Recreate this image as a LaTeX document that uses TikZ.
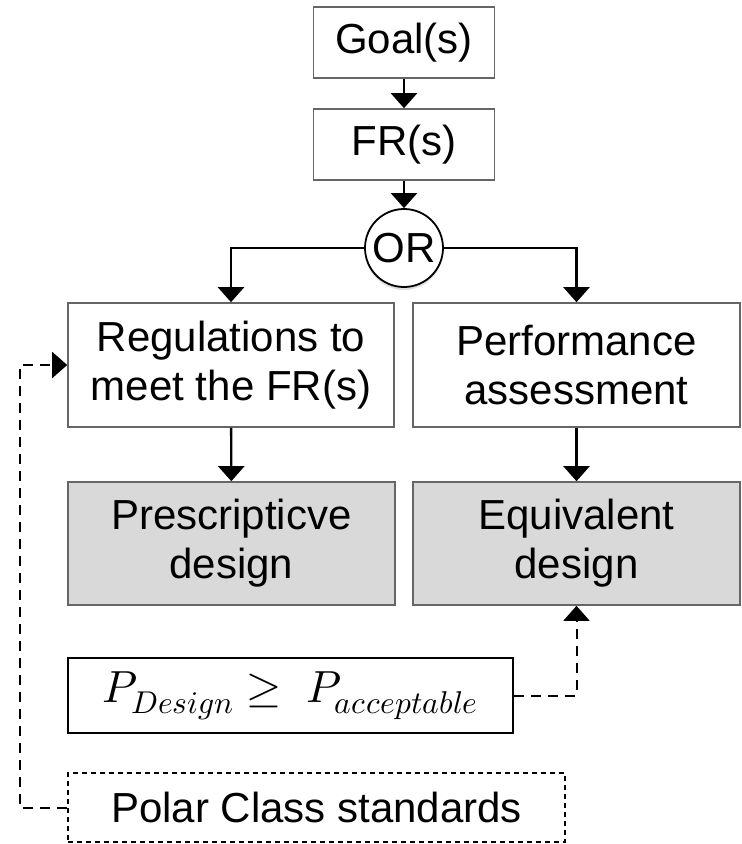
\documentclass[tikz,border=0pt]{standalone}
\usepackage{fontspec}
\usepackage{unicode-math}
\setmainfont{Liberation Sans}
\setmathfont{Latin Modern Math}
\usetikzlibrary{arrows.meta,shadows}
\tikzstyle{flowbox}=[draw=black!60,line width=1.6pt,fill=white,align=center,inner sep=0pt,font=\fontsize{42}{49}\selectfont]
\tikzstyle{designbox}=[flowbox,fill=black!15]
\tikzstyle{condbox}=[flowbox,draw=black,font=\fontsize{45}{49}\selectfont]
\tikzstyle{stdbox}=[flowbox,draw=black,line width=1.2pt,dash pattern=on 5pt off 4pt]
\tikzstyle{orgate}=[circle,draw=black,line width=1.8pt,fill=white,inner sep=0pt,minimum size=78pt,font=\fontsize{42}{49}\selectfont,drop shadow={opacity=0.25,shadow xshift=0pt,shadow yshift=-3pt}]
\tikzstyle{link}=[line width=2.4pt,-{Triangle[width=26pt,length=15pt]}]
\tikzstyle{dashlink}=[link,line width=2pt,dash pattern=on 10pt off 7pt]

\begin{document}
\begin{tikzpicture}[x=1pt,y=-1pt]
\useasboundingbox (0,0) rectangle (742,844);
% top of the chain
\node[flowbox,minimum width=181pt,minimum height=71pt] (goal) at (404,42.5) {Goal(s)};
\node[flowbox,minimum width=181pt,minimum height=71pt] (fr) at (404,144.5) {FR(s)};
\node[orgate] (or) at (404,248) {OR};
% the two routes
\node[flowbox,minimum width=326pt,minimum height=124pt] (reg) at (231,365) {Regulations to\\meet the FR(s)};
\node[flowbox,minimum width=327pt,minimum height=124pt] (perf) at (576.5,365) {Performance\\assessment};
\node[designbox,minimum width=327pt,minimum height=123pt] (pres) at (231.5,543.5) {Prescripticve\\design};
\node[designbox,minimum width=327pt,minimum height=123pt] (equi) at (576.5,543.5) {Equivalent\\design};
\node[condbox,minimum width=445pt,minimum height=75pt] (cond) at (290.5,695.5) {$P_{Design} \geq\ P_{acceptable}$};
\node[stdbox,minimum width=497pt,minimum height=69pt] (polar) at (316.5,807.5) {Polar Class standards};
\coordinate (bend) at (20,807.5);

\draw[link] (goal) -- (fr);
\draw[link] (fr) -- (or);
\draw[link] (or.west) -| (reg.north);
\draw[link] (or.east) -| (perf.north);
\draw[link] (reg) -- (pres);
\draw[link] (perf) -- (equi);
\draw[dashlink] (cond.east) -| (equi.south);
\draw[dashlink] (polar.west) -- (bend) |- (reg.west); % feeds back into the regulations
\end{tikzpicture}
\end{document}
